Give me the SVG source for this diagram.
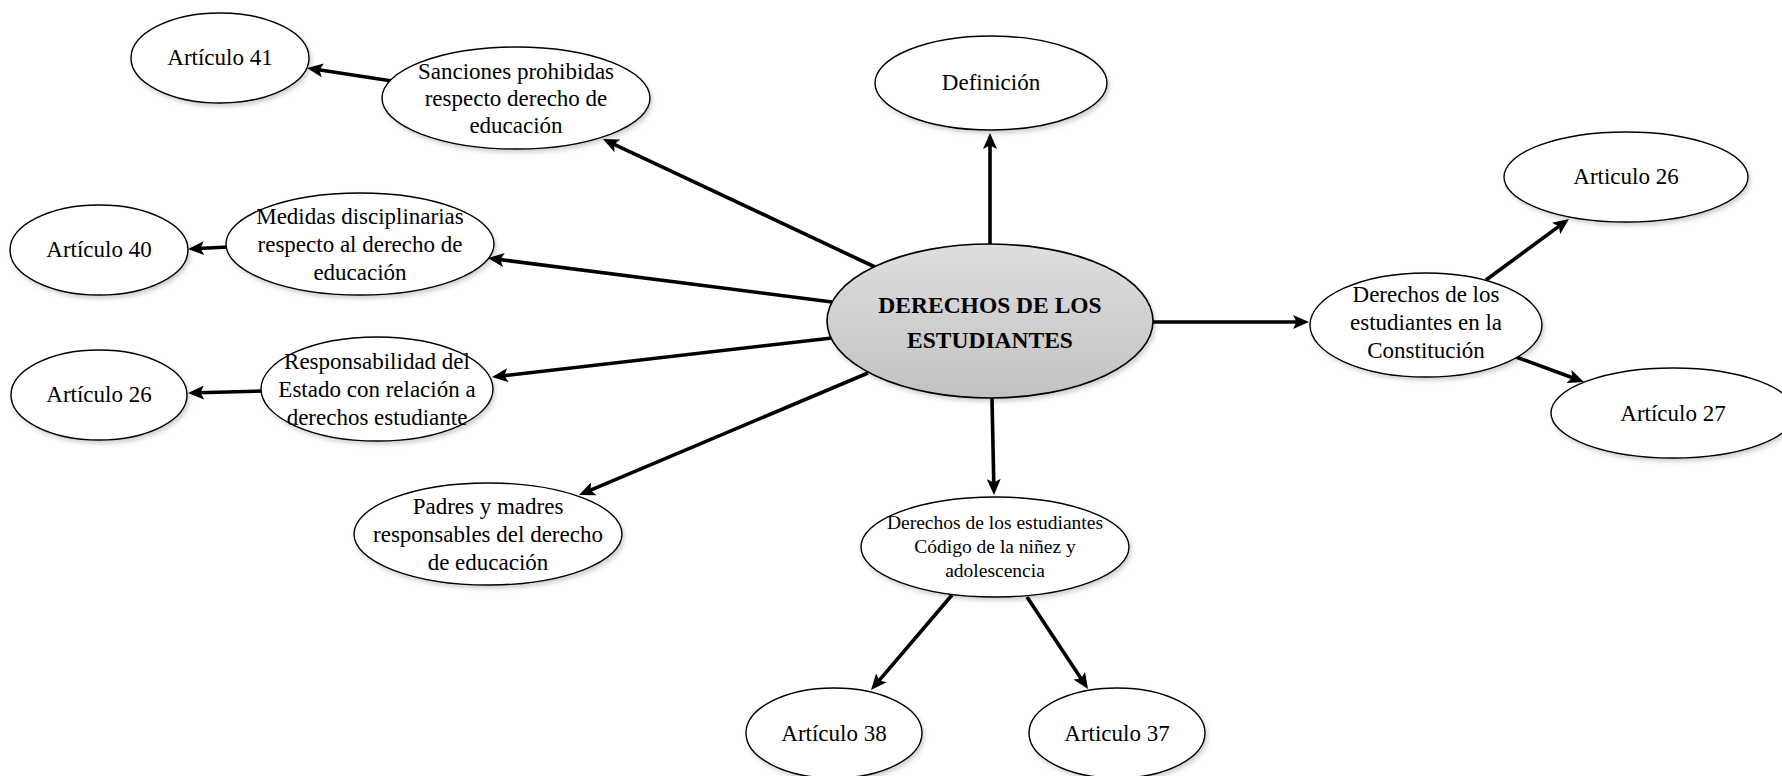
<svg xmlns="http://www.w3.org/2000/svg" width="1782" height="776" viewBox="0 0 1782 776">
<defs>
<style>
.n{fill:#fff;stroke:#000;stroke-width:1.4;filter:url(#sh)}
.c{fill:url(#g);stroke:#000;stroke-width:1.6;filter:url(#sh)}
.t{font-family:"Liberation Serif","Times New Roman",serif;font-size:23px;fill:#000;text-anchor:middle}
.s{font-size:19.5px}
.b{font-weight:bold;font-size:23.5px}
.e{fill:none;stroke:#000;stroke-width:3.6;marker-end:url(#ah)}
</style>
<linearGradient id="g" x1="0" y1="0" x2="0" y2="1">
<stop offset="0" stop-color="#dedede"/>
<stop offset="1" stop-color="#c2c2c2"/>
</linearGradient>
<filter id="sh" x="-10%" y="-10%" width="125%" height="130%">
<feDropShadow dx="2" dy="3" stdDeviation="2" flood-color="#000" flood-opacity="0.18"/>
</filter>
<marker id="ah" viewBox="0 0 16 14" refX="6" refY="7" markerWidth="16" markerHeight="14" markerUnits="userSpaceOnUse" orient="auto">
<path d="M0,0 L16,7 L0,14 L3.5,7 z" fill="#000"/>
</marker>
</defs>
<rect width="1782" height="776" fill="#fff"/>
<g id="connectors">
<line class="e" x1="875" y1="267" x2="612" y2="143.3"/>
<line class="e" x1="392" y1="81" x2="316.9" y2="69.5"/>
<line class="e" x1="990" y1="244" x2="990" y2="143"/>
<line class="e" x1="832" y1="302" x2="497.9" y2="259.3"/>
<line class="e" x1="228" y1="247" x2="198" y2="248.5"/>
<line class="e" x1="832" y1="338" x2="501.9" y2="375.9"/>
<line class="e" x1="263" y1="391" x2="198" y2="392.7"/>
<line class="e" x1="868" y1="373" x2="588.2" y2="491.1"/>
<line class="e" x1="1153" y1="322" x2="1299" y2="322"/>
<line class="e" x1="992" y1="398" x2="993.8" y2="485"/>
<line class="e" x1="1486" y1="280" x2="1560.9" y2="224.9"/>
<line class="e" x1="1516" y1="357" x2="1574.6" y2="378.5"/>
<line class="e" x1="952" y1="595" x2="877.5" y2="682.4"/>
<line class="e" x1="1027" y1="597" x2="1082.5" y2="680.7"/>
</g>
<g id="center">
<ellipse class="c" cx="990" cy="321" rx="163" ry="77"/>
<text class="t b" x="990" y="313">DERECHOS DE LOS</text>
<text class="t b" x="990" y="348">ESTUDIANTES</text>
</g>
<g id="definicion">
<ellipse class="n" cx="991" cy="83" rx="116" ry="47"/>
<text class="t" x="991" y="90">Definición</text>
</g>
<g id="sanciones">
<ellipse class="n" cx="516" cy="98" rx="134" ry="51"/>
<text class="t" x="516" y="79">Sanciones prohibidas</text>
<text class="t" x="516" y="106">respecto derecho de</text>
<text class="t" x="516" y="133">educación</text>
</g>
<g id="art41">
<ellipse class="n" cx="220" cy="58" rx="89" ry="45"/>
<text class="t" x="220" y="65">Artículo 41</text>
</g>
<g id="medidas">
<ellipse class="n" cx="360" cy="244" rx="134" ry="51"/>
<text class="t" x="360" y="224">Medidas disciplinarias</text>
<text class="t" x="360" y="252">respecto al derecho de</text>
<text class="t" x="360" y="280">educación</text>
</g>
<g id="art40">
<ellipse class="n" cx="99" cy="250" rx="89" ry="45"/>
<text class="t" x="99" y="257">Artículo 40</text>
</g>
<g id="responsabilidad">
<ellipse class="n" cx="377" cy="389" rx="116" ry="52"/>
<text class="t" x="377" y="369">Responsabilidad del</text>
<text class="t" x="377" y="397">Estado con relación a</text>
<text class="t" x="377" y="425">derechos estudiante</text>
</g>
<g id="art26l">
<ellipse class="n" cx="99" cy="395" rx="88" ry="45"/>
<text class="t" x="99" y="402">Artículo 26</text>
</g>
<g id="padres">
<ellipse class="n" cx="488" cy="534" rx="134" ry="51"/>
<text class="t" x="488" y="514">Padres y madres</text>
<text class="t" x="488" y="542">responsables del derecho</text>
<text class="t" x="488" y="570">de educación</text>
</g>
<g id="constitucion">
<ellipse class="n" cx="1426" cy="325" rx="116" ry="52"/>
<text class="t" x="1426" y="302">Derechos de los</text>
<text class="t" x="1426" y="330">estudiantes en la</text>
<text class="t" x="1426" y="358">Constitución</text>
</g>
<g id="art26r">
<ellipse class="n" cx="1626" cy="177" rx="122" ry="45"/>
<text class="t" x="1626" y="184">Articulo 26</text>
</g>
<g id="art27">
<ellipse class="n" cx="1673" cy="413" rx="122" ry="45"/>
<text class="t" x="1673" y="421">Artículo 27</text>
</g>
<g id="codigo">
<ellipse class="n" cx="995" cy="547" rx="134" ry="50"/>
<text class="t s" x="995" y="529">Derechos de los estudiantes</text>
<text class="t s" x="995" y="553">Código de la niñez y</text>
<text class="t s" x="995" y="577">adolescencia</text>
</g>
<g id="art38">
<ellipse class="n" cx="834" cy="733" rx="88" ry="45"/>
<text class="t" x="834" y="741">Artículo 38</text>
</g>
<g id="art37">
<ellipse class="n" cx="1117" cy="733" rx="88" ry="45"/>
<text class="t" x="1117" y="741">Articulo 37</text>
</g>
</svg>
